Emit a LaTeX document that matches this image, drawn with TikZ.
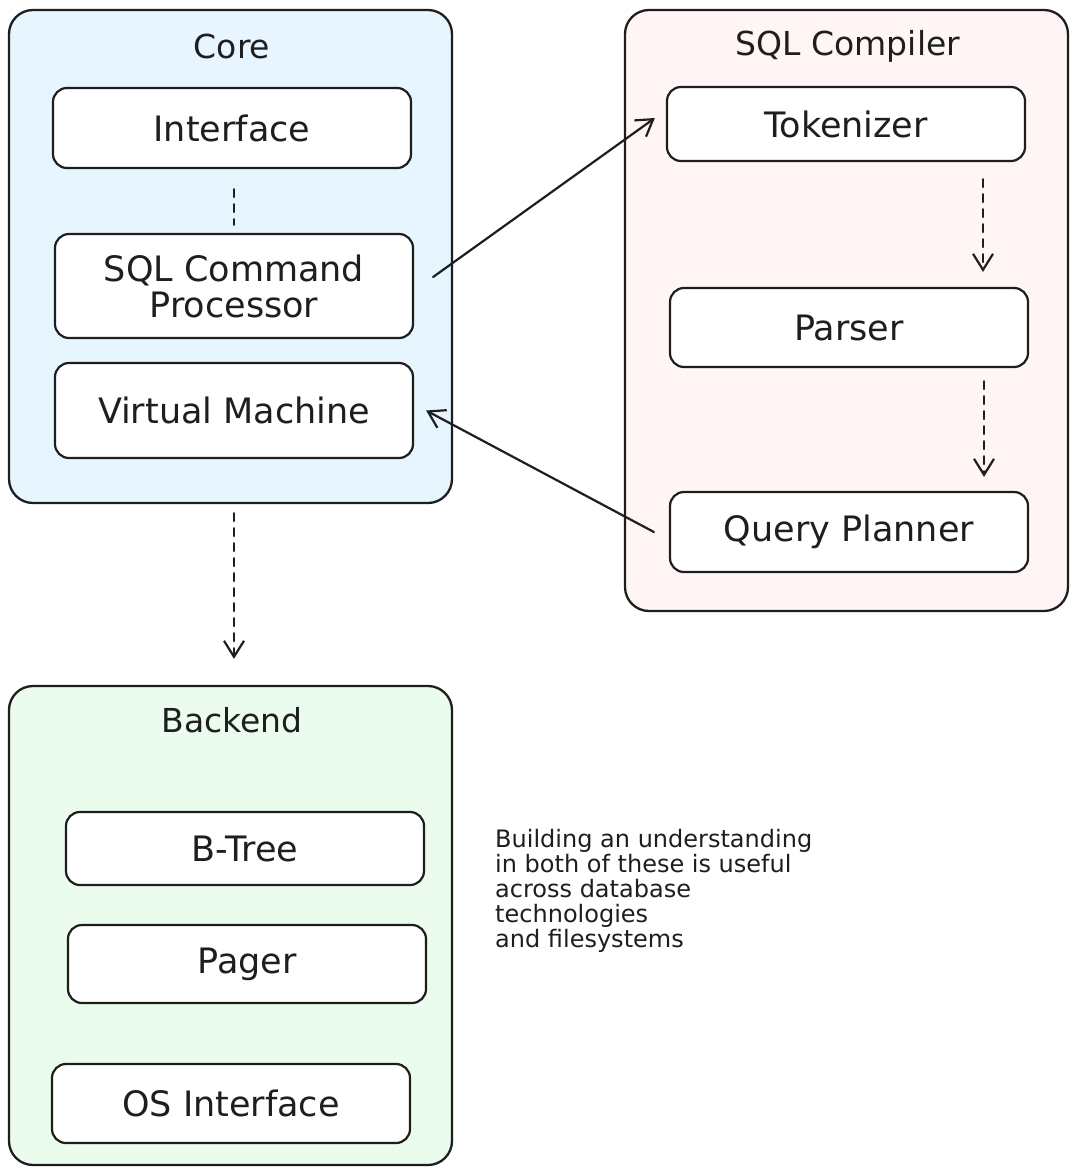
\documentclass[tikz,border=0pt]{standalone}
\usepackage{fontspec}
\setmainfont{DejaVu Sans}
\usetikzlibrary{arrows.meta}
\definecolor{coreblue}{HTML}{E7F5FF}
\definecolor{compred}{HTML}{FFF5F5}
\definecolor{backgreen}{HTML}{EBFBEE}
\definecolor{ink}{HTML}{1E1E1E}
\begin{document}
\begin{tikzpicture}[x=1pt,y=-1pt,
  group/.style={draw=ink, line width=2.3pt, rounded corners=24pt, rectangle, inner sep=0pt, minimum width=443pt},
  comp/.style={draw=ink, fill=white, line width=2.2pt, rounded corners=14pt, rectangle, inner sep=0pt, minimum width=358pt, align=center, text=ink, font=\fontsize{35}{36}\selectfont},
  grouptitle/.style={inner sep=0pt, text=ink, font=\fontsize{33}{36}\selectfont},
  notetext/.style={inner sep=0pt, align=left, text=ink, anchor=north west, font=\fontsize{24}{25}\selectfont},
  link/.style={draw=ink, line width=2.2pt, line cap=round},
  arr/.style={link, -{Straight Barb[length=16pt,width=20pt,line width=2.2pt]}},
  dasharr/.style={arr, dash pattern=on 8pt off 7pt},
  dashlink/.style={link, dash pattern=on 8pt off 7pt}]
\useasboundingbox (0,0) rectangle (1078,1175);
\fill[white] (0,0) rectangle (1078,1175);

% containers
\node[group, fill=coreblue, minimum height=493pt] (core) at (230.5,256.5) {};
\node[group, fill=compred, minimum height=601pt] (compiler) at (846.5,310.5) {};
\node[group, fill=backgreen, minimum height=479pt] (backend) at (230.5,925.5) {};

% titles
\node[grouptitle] (coret) at (232,46) {Core};
\node[grouptitle] (compilert) at (848,46) {SQL Compiler};
\node[grouptitle] (backendt) at (232,720) {Backend};

% core components
\node[comp, minimum height=80pt] (iface) at (232,128) {Interface};
\node[comp, minimum height=104pt] (scp) at (234,286) {SQL Command\\Processor};
\node[comp, minimum height=95pt] (vm) at (234,410.5) {Virtual Machine};

% compiler components
\node[comp, minimum height=74pt] (tok) at (846,124) {Tokenizer};
\node[comp, minimum height=79pt] (parser) at (849,327.5) {Parser};
\node[comp, minimum height=80pt] (qp) at (849,532) {Query Planner};

% backend components
\node[comp, minimum height=73pt] (btree) at (245,848.5) {B-Tree};
\node[comp, minimum height=78pt] (pager) at (247,964) {Pager};
\node[comp, minimum height=79pt] (osif) at (231,1103.5) {OS Interface};

% note
\node[notetext] (note) at (495,829) {Building an understanding\\in both of these is useful\\across database\\technologies\\and filesystems};

% connectors
\draw[dashlink] ([shift={(2,20)}]iface.south) -- ([shift={(0,-8)}]scp.north);
\draw[arr] ([shift={(19,-9)}]scp.east) -- ([shift={(-11,-6)}]tok.west);
\draw[arr] ([shift={(-15,0)}]qp.west) -- ([shift={(12,0)}]vm.east);
\draw[dasharr] ([shift={(137,17)}]tok.south) -- ([shift={(134,-15)}]parser.north);
\draw[dasharr] ([shift={(135,13)}]parser.south) -- ([shift={(135,-14)}]qp.north);
\draw[dasharr] ([shift={(3.5,9)}]core.south) -- ([shift={(3.5,-26)}]backend.north);
\end{tikzpicture}
\end{document}
